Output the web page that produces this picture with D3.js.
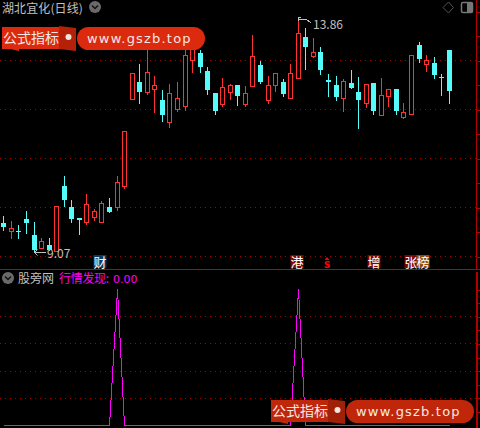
<!DOCTYPE html>
<html>
<head>
<meta charset="utf-8">
<script src="https://cdn.jsdelivr.net/npm/d3@7"></script>
<style>
  html, body { margin: 0; padding: 0; background: #000; }
  svg { display: block; }
  text { font-family: "Noto Sans CJK SC", sans-serif; }
</style>
</head>
<body>
<svg id="chart"></svg>
<script>
// daily prices
const opens = [9.68,9.52,9.52,9.75,9.42,9.15,9.23,9.11,10.42,10.01,9.77,9.70,9.79,9.70,10.01,10.01,10.44,12.19,12.56,12.34,12.40,12.19,11.72,11.99,12.07,12.99,13.15,12.77,12.32,12.09,12.36,12.48,12.09,12.48,12.89,12.19,12.48,12.56,12.22,12.64,13.46,13.09,13.17,12.60,12.50,12.24,12.54,12.34,12.13,12.54,11.87,12.26,12.40,11.83,11.91,13.30,12.93,12.93,12.66,13.21];
const closes = [9.60,9.58,9.50,9.66,9.11,9.30,9.13,10.03,10.13,9.77,9.72,10.07,9.91,10.09,9.91,10.52,11.56,12.73,12.36,12.75,12.48,11.89,12.32,12.22,13.11,13.32,12.87,12.38,11.95,12.44,12.50,12.26,12.32,13.09,12.54,12.50,12.73,12.32,12.73,13.56,13.26,13.17,12.81,12.56,12.26,12.58,12.44,12.17,12.52,11.97,12.28,12.40,11.95,11.93,13.11,13.01,13.01,12.68,12.64,12.38];
const highs = [9.83,9.72,9.64,9.93,9.70,9.38,9.38,10.03,10.64,10.15,9.77,10.28,9.97,10.13,10.19,10.64,11.56,12.73,12.93,13.52,12.68,12.40,12.52,12.56,13.36,13.46,13.21,12.87,12.32,12.64,12.52,12.48,12.48,13.52,12.99,12.68,12.73,12.62,12.93,13.86,13.66,13.46,13.28,12.73,12.68,12.62,12.81,12.66,12.52,12.54,12.64,12.40,12.40,12.13,13.11,13.38,13.11,13.07,12.73,13.21];
const lows = [9.52,9.36,9.36,9.46,9.07,9.15,9.11,9.11,10.01,9.68,9.44,9.64,9.72,9.70,9.89,9.93,10.38,12.19,12.11,12.30,11.93,11.75,11.62,11.95,11.97,12.75,12.75,12.30,11.89,12.05,12.19,12.07,12.05,12.48,12.52,12.11,12.36,12.26,12.22,12.64,12.81,13.05,12.70,12.26,12.17,11.95,12.42,11.60,12.03,11.89,11.87,12.05,11.89,11.81,11.91,12.95,12.77,12.62,12.28,12.11];

// lower panel: zero everywhere apart from the two signal days
const signalDays = [15, 39];
const signalPeak = 100;
const signal = opens.map((d, i) => signalDays.includes(i) ? signalPeak : 0);

const priceGrid = [9, 10, 11, 12, 13];
const priceTicks = [9, 9.5, 10, 10.5, 11, 11.5, 12, 12.5, 13, 13.5, 14];
const signalGrid = [20, 40, 60, 80];
const signalTicks = [10, 20, 30, 40, 50, 60, 70, 80, 90, 100];

// badges along the bottom of the price panel
const badges = [
  { day: 12.8, label: '财', color: '#0b3a66' },
  { day: 38.9, label: '港', color: '#7d0606' },
  { day: 49, label: '增', color: '#7d0606' },
  { day: 53.9, label: '张', color: '#7d0606' },
  { day: 55.5, label: '榜', color: '#8a4d0c' }
];

const RED = '#ff3232', CYAN = '#54fcfc', GREY = '#c0c0c0', AXIS = '#b00000', GRID = '#a00000', PINK = '#ff00ff';

const svg = d3.select('#chart').attr('width', 480).attr('height', 428);
svg.append('rect').attr('width', 480).attr('height', 428).attr('fill', '#000');

const xScale = d3.scaleLinear().domain([0, 59]).range([3.8, 449.25]);
const col = i => Math.floor(xScale(i)) + 0.5;
const yPrice = d3.scaleLinear().domain([9, 13]).range([256.5, 60.5]);
const ySignal = d3.scaleLinear().domain([0, 100]).range([425.5, 289.5]);
const snap = y => Math.round(y - 0.5) + 0.5;

// dotted grid lines
const gridG = svg.append('g').attr('shape-rendering', 'crispEdges');
const addGrid = (values, scale) => gridG.selectAll(null)
  .data(values)
  .join('line')
  .attr('x1', 0).attr('x2', 476)
  .attr('y1', d => snap(scale(d))).attr('y2', d => snap(scale(d)))
  .attr('stroke', GRID)
  .attr('stroke-dasharray', '1 4');
addGrid(priceGrid, yPrice);
addGrid(signalGrid, ySignal);

// candles
const days = d3.range(opens.length);
const isUp = i => closes[i] >= opens[i];
const candles = svg.append('g').attr('shape-rendering', 'crispEdges');

candles.selectAll('.wick')
  .data(days)
  .join('line')
  .attr('class', 'wick')
  .attr('x1', col).attr('x2', col)
  .attr('y1', i => yPrice(highs[i]))
  .attr('y2', i => yPrice(lows[i]))
  .attr('stroke', i => isUp(i) ? RED : CYAN);

candles.selectAll('.body')
  .data(days)
  .join('rect')
  .attr('class', 'body')
  .attr('x', i => isUp(i) ? col(i) - 2 : col(i) - 2.5)
  .attr('width', i => isUp(i) ? 4 : 5)
  .attr('y', i => snap(yPrice(Math.max(opens[i], closes[i]))) - (isUp(i) ? 0 : 0.5))
  .attr('height', i => Math.max(1, Math.round(Math.abs(yPrice(opens[i]) - yPrice(closes[i])))))
  .attr('fill', i => isUp(i) ? '#000' : CYAN)
  .attr('stroke', i => isUp(i) ? RED : 'none');

// high / low labels
const hiDay = d3.greatest(days, i => highs[i]);
const loDay = d3.least(days, i => lows[i]);
const label = svg.append('g').attr('fill', GREY).style('font-family', '"DejaVu Sans"').style('font-size', '12px');
label.append('text').attr('x', 313).attr('y', 29).text(d3.format('.2f')(highs[hiDay]));
label.append('text').attr('x', 47).attr('y', 258).text(d3.format('.2f')(lows[loDay]));
svg.append('path')
  .attr('d', `M${col(hiDay)},21V17.5H301M${col(hiDay)},19.5H306L311,22.5`)
  .attr('fill', 'none').attr('stroke', GREY).attr('shape-rendering', 'crispEdges');
svg.append('path')
  .attr('d', `M${col(loDay)},252.5H46M${col(loDay)},252.5L${col(loDay) + 3},249.5M${col(loDay)},252.5L${col(loDay) + 3},255.5`)
  .attr('fill', 'none').attr('stroke', GREY);

// badges
const badgeG = svg.selectAll('.badge')
  .data(badges)
  .join('g')
  .attr('class', 'badge')
  .attr('transform', d => `translate(${Math.round(xScale(d.day))},262)`);
badgeG.append('rect')
  .attr('x', -6.5).attr('y', -7).attr('width', 13).attr('height', 13)
  .attr('fill', d => d.color);
badgeG.append('text')
  .attr('text-anchor', 'middle').attr('y', 4.5)
  .attr('fill', '#fff').style('font-size', '13px')
  .text(d => d.label);

// the small red "s" marker
svg.append('path').attr('d', 'M327,257l2.5,3h-5z').attr('fill', '#ff0000');
svg.append('text').attr('x', 327).attr('y', 268).attr('text-anchor', 'middle')
  .attr('fill', '#ff0000').style('font-size', '12px').style('font-weight', 'bold')
  .style('font-family', '"DejaVu Sans Mono"').text('s');

// panel separator and right axes
svg.append('line').attr('x1', 0).attr('x2', 480).attr('y1', 269.5).attr('y2', 269.5)
  .attr('stroke', '#c00000').attr('shape-rendering', 'crispEdges');

const axisPrice = d3.axisRight(yPrice).tickValues(priceTicks).tickSize(4).tickFormat('').tickSizeOuter(0);
const axisSignal = d3.axisRight(ySignal).tickValues(signalTicks).tickSize(4).tickFormat('').tickSizeOuter(0);
const styleAxis = (g, width) => {
  g.attr('shape-rendering', 'crispEdges');
  g.selectAll('.tick line').attr('stroke', AXIS);
  g.select('.domain').remove();
  g.append('line').attr('x1', 0).attr('x2', 0).attr('stroke', AXIS).attr('stroke-width', width);
};
svg.append('g').attr('transform', 'translate(476.5,0)').call(axisPrice)
  .call(g => styleAxis(g, 1))
  .select('line:last-child').attr('y1', 0).attr('y2', 269);
svg.append('g').attr('transform', 'translate(476.5,0)').call(axisSignal)
  .call(g => styleAxis(g, 2))
  .select('line:last-child').attr('y1', 272).attr('y2', 428);

// signal line, aliased like the original
const signalLine = d3.line().x((d, i) => col(i)).y(d => ySignal(d));
svg.append('path')
  .datum(signal)
  .attr('d', signalLine)
  .attr('fill', 'none')
  .attr('stroke', PINK)
  .attr('shape-rendering', 'crispEdges');

// header text and icons
const chevron = (x, y, fill) => {
  svg.append('circle').attr('cx', x).attr('cy', y).attr('r', 6).attr('fill', fill);
  svg.append('path').attr('d', `M${x - 3},${y - 1.5}L${x},${y + 1.5}L${x + 3},${y - 1.5}`)
    .attr('fill', 'none').attr('stroke', '#111').attr('stroke-width', 1.5);
};
svg.append('text').attr('x', 2).attr('y', 13).attr('fill', GREY)
  .style('font-size', '12px').style('letter-spacing', '0.1px').text('湖北宜化(日线)');
chevron(95, 7, '#6a6a6a');
svg.append('path').attr('d', 'M448.5,2L453.5,7.5L448.5,13L443,7.5Z').attr('fill', 'none').attr('stroke', '#555');
svg.append('rect').attr('x', 461.5).attr('y', 2.5).attr('width', 11).attr('height', 10).attr('rx', 1.5)
  .attr('fill', '#000').attr('stroke', '#777').attr('stroke-width', 1.5);
svg.append('rect').attr('x', 467).attr('y', 3).attr('width', 5).attr('height', 9).attr('fill', '#777');

chevron(8, 278, '#6a6a6a');
svg.append('text').attr('x', 18).attr('y', 283).attr('fill', GREY)
  .style('font-size', '12px').text('股旁网');
svg.append('text').attr('x', 59).attr('y', 283).attr('fill', PINK)
  .style('font-size', '12px').style('letter-spacing', '-0.3px').text('行情发现:');
svg.append('text').attr('x', 113).attr('y', 283).attr('fill', PINK)
  .style('font-size', '11px').style('font-family', '"DejaVu Sans"').text('0.00');

// site watermark, drawn twice
const watermark = (dx, dy, main, dark) => {
  const g = svg.append('g').attr('transform', `translate(${dx},${dy})`);
  g.append('path').attr('d', 'M59,26L76,28V51L59,49Z').attr('fill', dark);
  g.append('path').attr('d', 'M2,27H59V49H19L19,51L10,49H2Z').attr('fill', main);
  g.append('rect').attr('x', 77).attr('y', 27).attr('width', 128).attr('height', 23).attr('rx', 11.5).attr('fill', main);
  g.append('circle').attr('cx', 68.5).attr('cy', 37).attr('r', 3).attr('fill', '#f4e4e0');
  g.append('text').attr('x', 3).attr('y', 43).attr('fill', '#f6e8e4')
    .style('font-size', '14px').text('公式指标');
  g.append('text').attr('x', 87).attr('y', 43).attr('fill', '#f6e8e4')
    .style('font-size', '13px').style('font-family', '"DejaVu Sans"').style('letter-spacing', '1.2px')
    .text('www.gszb.top');
};
watermark(0, 0, '#dc2a0e', '#b52008');
watermark(269, 373, '#c0260a', '#a02008');
</script>
</body>
</html>
